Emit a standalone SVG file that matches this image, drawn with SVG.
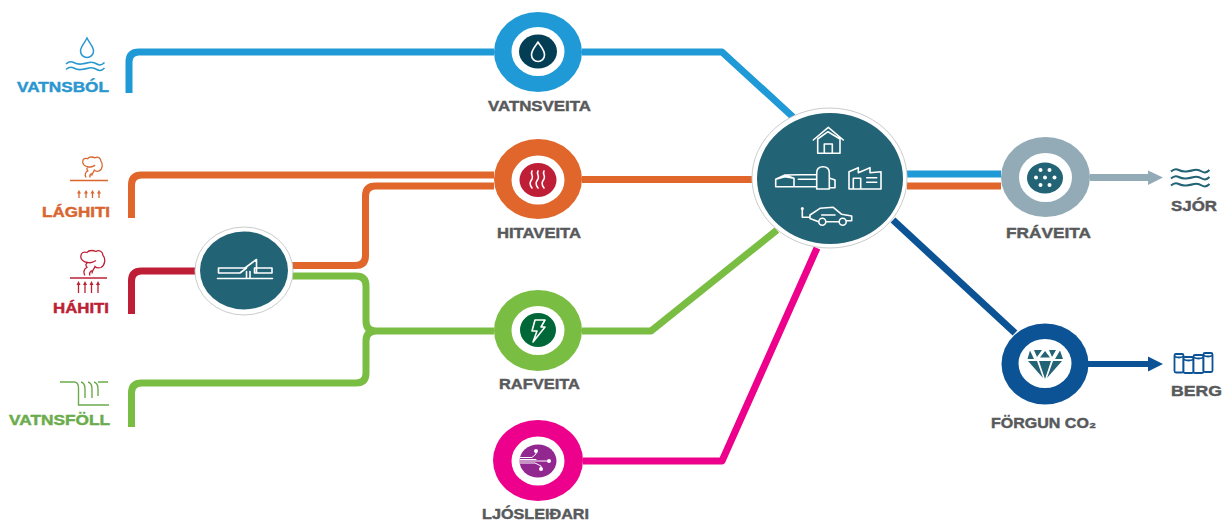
<svg xmlns="http://www.w3.org/2000/svg" width="1222" height="522" viewBox="0 0 1222 522">
<style>
.c{fill:none;stroke-width:7;stroke-linejoin:round}
.t{font-family:"Liberation Sans",Arial,sans-serif;font-weight:700;font-size:15.5px;stroke-width:.45;paint-order:stroke}
.g{fill:#58595b;stroke:#58595b}
.w{fill:none;stroke:#fff;stroke-width:1.6;stroke-linejoin:round;stroke-linecap:round}
.ring{fill:#fff;stroke:#c9cbcc;stroke-width:1}
.cyl{fill:#fff;stroke:#0b5394;stroke-width:1.800}
</style>
<defs>
<path id="wave" d="M0 0q3.800-3.500 7.700-1.500t7.700 1.500t7.700-1.500t7.700 1.500t7.700-1.500" fill="none"/>
<path id="cloud" fill="none" d="M5 25C3 22 4 18 7 17C5 14 6 13 8 12C3 12 0 8 1 5C1 2 4 1 7 2C9-1 14 0 16 1C19-1 23 1 23 5C26 8 25 15 21 17C18 18 16 17 15 16C14 19 12 20 12 23M8 12C11 13 14 11 16 10M10 25C9 23 10 21 12 20"/>
</defs>
<rect width="1222" height="522" fill="#fff"/>
<g id="connectors">
<path class="c" stroke="#1f9ad6" d="M129 93V62q0-10 10-10H494M582 52H722L793 117"/>
<path class="c" stroke="#e0662b" d="M131.500 218V185q0-10 10-10H494M292 265.500H355.500q10 0 10-10V196q0-10 10-10H494M582 179.500H752"/>
<path class="c" stroke="#bf1e37" d="M131.500 314V281q0-10 10-10H195"/>
<path class="c" stroke="#7abd43" d="M292 276H356q10 0 10 10V321q0 10 10 10H494M131.500 427V393q0-10 10-10H356q10 0 10-10V341q0-10 10-10M582 331H651L777 230"/>
<path class="c" stroke="#ec008c" d="M583 461H722L817 248"/>
<path class="c" stroke="#1f9ad6" d="M907 174H1001"/>
<path class="c" stroke="#e0662b" d="M907 186H1001"/>
<path class="c" stroke="#0b5394" d="M893 220L1015 333"/>
<path d="M1090 174H1148V170.500L1163 177.500L1148 185V181H1090Z" fill="#92abb7"/>
<path d="M1088 361H1148V356.500L1163 364L1148 371.500V367H1088Z" fill="#0b5394"/>
</g>
<g id="vatnsbol">
<path d="M87 38C84 44 80.500 47 80.500 51A6.500 6.500 0 0 0 93.500 51C93.500 47 90 44 87 38Z" fill="none" stroke="#2a97cf" stroke-width="1.500"/>
<use href="#wave" x="66" y="64" stroke="#2a97cf" stroke-width="1.600"/><use href="#wave" x="66" y="69.500" stroke="#2a97cf" stroke-width="1.600"/>
<text class="t" x="17" y="92" fill="#2a97cf" stroke="#2a97cf" textLength="92" lengthAdjust="spacingAndGlyphs">VATNSBÓL</text>
</g>
<g id="laghiti">
<use href="#cloud" transform="translate(82 157) scale(.82 .82)" stroke="#d9652f" stroke-width="1.600"/>
<path d="M70 180.500H108" stroke="#d9652f" stroke-width="1.500"/>
<path d="M79 198V193M86 198V193M92.500 198V193M99 198V193" stroke="#d9652f" stroke-width="1.300"/>
<path d="M79 190l-2 3.500h4zM86 190l-2 3.500h4zM92.500 190l-2 3.500h4zM99 190l-2 3.500h4z" fill="#d9652f"/>
<text class="t" x="42" y="217" fill="#d9652f" stroke="#d9652f" textLength="68" lengthAdjust="spacingAndGlyphs">LÁGHITI</text>
</g>
<g id="hahiti">
<use href="#cloud" x="80" y="250.500" stroke="#bc2034" stroke-width="1.300"/>
<path d="M70 278H107" stroke="#bc2034" stroke-width="1.500"/>
<path d="M78.500 293V284M85 293V284M91.500 293V284M98 293V284" stroke="#bc2034" stroke-width="1.300"/>
<path d="M78.500 281l-2 4h4zM85 281l-2 4h4zM91.500 281l-2 4h4zM98 281l-2 4h4z" fill="#bc2034"/>
<text class="t" x="53" y="313" fill="#bc2034" stroke="#bc2034" textLength="56" lengthAdjust="spacingAndGlyphs">HÁHITI</text>
</g>
<g id="vatnsfoll">
<path d="M60 382H74Q78.500 382 78.500 388V405H109M81 382Q85 383 85 389V398M88 382Q92 383 92 389V398M94 382Q98 383 98 389V396M98 382H108" fill="none" stroke="#6aac4b" stroke-width="1.400"/>
<text class="t" x="9" y="425" fill="#6aac4b" stroke="#6aac4b" textLength="101" lengthAdjust="spacingAndGlyphs">VATNSFÖLL</text>
</g>
<g id="virkjun">
<ellipse class="ring" cx="244" cy="271" rx="49" ry="44"/>
<ellipse cx="244" cy="270.500" rx="44" ry="39" fill="#226375"/>
<path class="w" d="M217.500 278.500H272.500M218.500 268H245L256.500 259.500V273H254.500V268H272V273H254.500M218.500 268V273H240L246.500 268M246.500 271.500V278.500M250 271.500V278.500"/>
</g>
<g id="vatnsveita">
<ellipse cx="538" cy="52" rx="44" ry="40" fill="#1f9ad6"/>
<ellipse cx="538" cy="51.500" rx="26.500" ry="24.500" fill="#fff"/>
<ellipse cx="538" cy="51.500" rx="19" ry="17" fill="#043e54"/>
<path d="M538 42C535 47 531.500 50 531.500 55A6.500 6.500 0 0 0 544.500 55C544.500 50 541 47 538 42Z" class="w"/>
<text class="t g" x="488" y="111" textLength="103" lengthAdjust="spacingAndGlyphs">VATNSVEITA</text>
</g>
<g id="hitaveita">
<ellipse cx="538" cy="179" rx="44" ry="40" fill="#e0662b"/>
<ellipse cx="538" cy="180" rx="26.500" ry="24.500" fill="#fff"/>
<ellipse cx="538" cy="180" rx="18.500" ry="17" fill="#bf1e37"/>
<path class="w" d="M532 171c-2 3 2 5 0 8s-3 5 0 9M538 171c-2 3 2 5 0 8s-3 5 0 9M544 171c-2 3 2 5 0 8s-3 5 0 9"/>
<text class="t g" x="497" y="238" textLength="84" lengthAdjust="spacingAndGlyphs">HITAVEITA</text>
</g>
<g id="rafveita">
<ellipse cx="538" cy="330.500" rx="44" ry="40.500" fill="#7abd43"/>
<ellipse cx="538" cy="330.500" rx="26.500" ry="24.500" fill="#fff"/>
<ellipse cx="538" cy="330" rx="18" ry="17" fill="#006838"/>
<path class="w" d="M535 320H545L541 327H545L533 342L537 331H532Z"/>
<text class="t g" x="499" y="389" textLength="81" lengthAdjust="spacingAndGlyphs">RAFVEITA</text>
</g>
<g id="ljosleidari">
<ellipse cx="538" cy="460.500" rx="45" ry="40.500" fill="#ec008c"/>
<ellipse cx="538" cy="461" rx="26.500" ry="24.500" fill="#fff"/>
<ellipse cx="538" cy="461" rx="18.500" ry="16.500" fill="#92278f"/>
<path class="w" style="stroke-width:1" d="M520 457.500H532L536 454V451M520 459.500H536M520 461H549M520 463H535L541 466V469"/>
<circle cx="536" cy="451" r="2" fill="#fff"/><circle cx="549" cy="461" r="2" fill="#fff"/><circle cx="541" cy="469" r="2" fill="#fff"/>
<text class="t g" x="482" y="519" textLength="107" lengthAdjust="spacingAndGlyphs">LJÓSLEIÐARI</text>
</g>
<g id="notendur">
<ellipse class="ring" cx="829.500" cy="178" rx="77.500" ry="70"/>
<ellipse cx="830" cy="178.500" rx="73" ry="65.500" fill="#226375"/>
<path class="w" d="M813.300 140L828.300 127.300L843.300 140M817.700 139V153.300H840V139M817.700 139L828 131.700L840 139M824.300 153.300V144H832.300V153.300"/>
<path class="w" d="M775.700 186.700V179.300L785 175L794 178.300V186.700ZM775.700 179.300L785 176.700L794 178.300M785 175L816.700 174.500M798.300 179.300H816.700M794 186.700H816.700M816.700 189V173Q816.700 166.700 823 166.700Q829.300 166.700 829.300 173V189ZM829.300 178L835 180V187.700H829.300"/>
<path class="w" d="M849 189V171.700L858.300 167.700V172.700L870 167.700V172.700L881 171.700V189ZM853.300 189V178.300H860.700V189M866.700 177.700H876.700M866.700 182.300H876.700"/>
<path class="w" d="M802.300 209V217.300H810M810 218.500V215L820 208.300L833.300 207.300L841.700 214.300L851.700 216V220.700H846.500M810 218.500L818.500 221.700M826.500 221.700H839M821.700 215H835"/>
<circle cx="802.300" cy="208.500" r="1.500" fill="#fff"/>
<circle class="w" cx="822.300" cy="221.700" r="3.500"/><circle class="w" cx="842.700" cy="221.700" r="3.500"/>
</g>
<g id="fraveita">
<ellipse cx="1045.500" cy="177" rx="44.500" ry="40" fill="#92abb7"/>
<ellipse cx="1045.500" cy="177.500" rx="26.500" ry="24.500" fill="#fff"/>
<ellipse cx="1045" cy="178" rx="18" ry="15.500" fill="#226375"/>
<g fill="#fff"><circle cx="1040.500" cy="170" r="2"/><circle cx="1049.500" cy="170" r="2"/><circle cx="1036" cy="177.500" r="2"/><circle cx="1045" cy="177.500" r="2"/><circle cx="1054.500" cy="177.500" r="2"/><circle cx="1040.500" cy="185" r="2"/><circle cx="1049.500" cy="185" r="2"/></g>
<text class="t g" x="1006" y="238" textLength="85" lengthAdjust="spacingAndGlyphs">FRÁVEITA</text>
</g>
<g id="sjor">
<g stroke="#226375" stroke-width="2"><use href="#wave" x="1171" y="171.500"/><use href="#wave" x="1171" y="178.500"/><use href="#wave" x="1171" y="185.500"/></g>
<text class="t g" x="1171" y="211" textLength="46" lengthAdjust="spacingAndGlyphs">SJÓR</text>
</g>
<g id="forgun">
<ellipse cx="1045" cy="364" rx="43.500" ry="40.500" fill="#0b5394"/>
<ellipse cx="1045" cy="363.500" rx="26.500" ry="24.500" fill="#fff"/>
<path d="M1034 350H1042L1037 357ZM1045 351L1050 357.500H1040ZM1049 350H1056L1052 357ZM1060 350.500L1063 359H1055ZM1030 350.500L1034 359H1027.500ZM1028 361H1037L1043 378ZM1039 361H1051L1045 379ZM1053 361H1062L1047 378Z" fill="#226375"/>
<text class="t g" x="991" y="428" textLength="105" lengthAdjust="spacingAndGlyphs">FÖRGUN CO₂</text>
</g>
<g id="berg">
<rect class="cyl" x="1174.500" y="354" width="9" height="18.500" rx="1.500"/><rect class="cyl" x="1183.500" y="357" width="10" height="16" rx="1.500"/><rect class="cyl" x="1193.500" y="355" width="10" height="18" rx="1.500"/><rect class="cyl" x="1203.500" y="353" width="9" height="19" rx="1.500"/>
<path d="M1174.500 356.500Q1179 358.500 1183.500 356.500M1183.500 359.500Q1188.500 361.500 1193.500 359.500M1193.500 357.500Q1198.500 359.500 1203.500 357.500M1203.500 355.500Q1208 357.500 1212.500 355.500" stroke="#0b5394" stroke-width="1.800" fill="none"/>
<text class="t g" x="1171" y="396" textLength="51" lengthAdjust="spacingAndGlyphs">BERG</text>
</g>
</svg>
